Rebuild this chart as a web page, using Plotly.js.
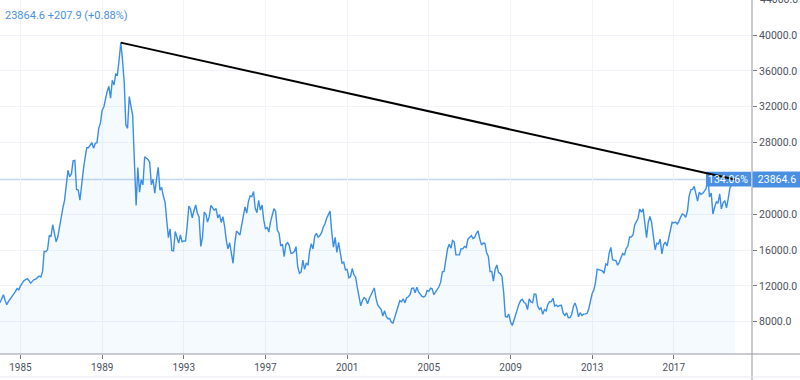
<!DOCTYPE html>
<html>
<head>
<meta charset="utf-8">
<script src="https://cdn.plot.ly/plotly-3.0.1.min.js"></script>
<style>
  html, body { margin: 0; padding: 0; background: #ffffff; }
  #chart { width: 800px; height: 380px; }
</style>
</head>
<body>
<div id="chart"></div>
<script>
// Monthly closes, first value = January 1984
const firstYear = 1984;
const close1980s = [
  10120, 10600, 11000, 10400, 9900, 10260, 10500, 10800, 11100, 11350, 11700, 11550,
  11990, 12350, 12550, 12700, 12800, 12600, 12300, 12500, 12700, 12750, 12900, 13100,
  13000, 13640, 15860, 15825, 16050, 17650, 17500, 18820, 17850, 16910, 17500, 18700,
  20000, 20770, 21570, 23275, 24900, 24180, 24490, 25960, 26010, 22770, 22690, 21560,
  23620, 25000, 26260, 27430, 27420, 27770, 28000, 27370, 27920, 27980, 29580, 30160,
  31580, 31990, 32840, 33710, 34270, 32950, 34950, 34430, 35640, 35550, 37270, 39150
];
const close1990s = [
  37189, 34592, 29980, 29584, 33131, 31940, 31036, 25978, 20984, 25194, 22454, 23849,
  23293, 26409, 26292, 26111, 25790, 23291, 23900, 22335, 23916, 25222, 22688, 22984,
  22023, 21339, 19346, 17391, 18348, 15951, 15910, 18061, 17399, 16767, 17684, 16925,
  17024, 17000, 18591, 20919, 20552, 19590, 20380, 21027, 20106, 19703, 16408, 17417,
  20229, 19997, 19112, 19725, 20974, 20643, 20450, 20629, 19564, 19990, 19076, 19723,
  18650, 17053, 16140, 16807, 15437, 14517, 16678, 18117, 17913, 17654, 18744, 19868,
  20813, 20125, 21407, 22041, 21956, 22531, 20693, 20167, 21556, 20466, 21020, 19361,
  18330, 18557, 18003, 19151, 20069, 20605, 20331, 18229, 17888, 16459, 16636, 15259,
  16628, 16831, 16527, 15641, 15671, 15830, 16379, 14108, 13406, 13565, 14883, 13842,
  14499, 14368, 15837, 16702, 16112, 17530, 17862, 17437, 17605, 17942, 18558, 18934
];
const close2000s = [
  19540, 19960, 20337, 17974, 16332, 17411, 15727, 16861, 15747, 14539, 14649, 13785,
  13843, 12884, 12999, 13934, 13262, 12969, 11860, 10713, 9775, 10366, 10697, 10543,
  9997, 10588, 11025, 11493, 11764, 10622, 9877, 9619, 9383, 8640, 9216, 8579,
  8340, 8363, 7973, 7831, 8425, 9083, 9563, 10344, 10219, 10560, 10101, 10677,
  10784, 11042, 11715, 11762, 11236, 11859, 11326, 11082, 10824, 10771, 10899, 11489,
  11388, 11741, 11669, 11009, 11277, 11584, 11900, 12414, 13574, 13607, 14872, 16111,
  16650, 16206, 17060, 16907, 15467, 15505, 15457, 16141, 16128, 16399, 16274, 17226,
  17383, 17604, 17288, 17400, 17876, 18138, 17249, 16569, 16786, 16738, 15681, 15308,
  13592, 13603, 12526, 13850, 14339, 13482, 13377, 13073, 11260, 8577, 8512, 8860,
  7994, 7568, 8110, 8828, 9523, 9958, 10357, 10493, 10133, 10035, 9346, 10546
];
const close2010s = [
  10198, 10126, 11090, 11057, 9769, 9383, 9537, 8824, 9369, 9202, 9937, 10229,
  10238, 10624, 9755, 9850, 9694, 9816, 9833, 8955, 8700, 8988, 8435, 8455,
  8803, 9723, 10084, 9521, 8543, 9007, 8695, 8840, 8870, 8928, 9446, 10395,
  11139, 11559, 12398, 13861, 13775, 13677, 13668, 13389, 14456, 14328, 15662, 16291,
  14915, 14841, 14828, 14304, 14632, 15162, 15621, 15425, 16174, 16414, 17460, 17451,
  17674, 18798, 19207, 19520, 20563, 20236, 20585, 18890, 17388, 19083, 19747, 19034,
  17518, 16027, 16759, 16666, 17235, 15576, 16569, 16887, 16450, 17425, 18308, 19114,
  19041, 19119, 18909, 19197, 19651, 20033, 19925, 19646, 20356, 22012, 22725, 22765,
  23098, 22068, 21454, 22468, 22202, 22305, 22554, 22865, 24120, 21920, 22351, 20015,
  20773, 21385, 21206, 22259, 20601, 21276, 21522, 20704, 21756, 22927, 23294, 23656.7,
  23864.6
];
const xTickYears = ['1985', '1989', '1993', '1997', '2001', '2005', '2009', '2013', '2017'];
const yTickValues = [8000, 12000, 16000, 20000, 24000, 28000, 32000, 36000, 40000];
const topTickValue = 44000;
const measureLabel = '134.06%';

// ---- build
const closes = [].concat(close1980s, close1990s, close2000s, close2010s);
const dates = closes.map((_, i) => {
  const y = firstYear + Math.floor(i / 12);
  const m = (i % 12) + 1;
  return y + '-' + String(m).padStart(2, '0') + '-01';
});
const n = closes.length;
const last = closes[n - 1];
const prev = closes[n - 2];
const chg = last - prev;
const chgPct = chg / prev * 100;
let peakIdx = 0;
closes.forEach((v, i) => { if (v > closes[peakIdx]) peakIdx = i; });

const BLUE = '#3b8ee8';
const LABEL_BLUE = '#4a90e2';
const AXIS_TXT = '#4c525e';
const GRID = '#f0f3fa';
const FONT = 'Roboto, "Open Sans", sans-serif';

const yLow = 4395, yHigh = 43906;

const traces = [
  {
    x: dates, y: closes, type: 'scatter', mode: 'lines',
    line: { color: BLUE, width: 1.4 },
    fill: 'tozeroy', fillcolor: 'rgba(33,150,243,0.05)',
    hoverinfo: 'skip'
  }
];

const fmt = v => v.toFixed(1);

const layout = {
  width: 800, height: 380,
  margin: { l: 0, r: 48, t: 0, b: 26, pad: 0 },
  paper_bgcolor: '#ffffff', plot_bgcolor: '#ffffff',
  showlegend: false,
  font: { family: FONT, size: 10, color: AXIS_TXT },
  xaxis: {
    type: 'date',
    range: ['1984-01-01', '2020-10-30'],
    tickvals: xTickYears.map(y => y + '-01-01'),
    ticktext: xTickYears,
    ticks: 'outside', ticklen: 4, tickcolor: '#787b86', tickwidth: 1,
    showgrid: true, gridcolor: GRID, gridwidth: 1,
    showline: false, zeroline: false,
    tickfont: { family: FONT, size: 10, color: AXIS_TXT },
    fixedrange: true
  },
  yaxis: {
    side: 'right',
    range: [yLow, yHigh],
    tickvals: yTickValues,
    ticktext: yTickValues.map(fmt),
    ticks: 'outside', ticklen: 4, tickcolor: '#787b86', tickwidth: 1,
    showgrid: true, gridcolor: GRID, gridwidth: 1,
    showline: false, zeroline: false,
    tickfont: { family: FONT, size: 10.5, color: AXIS_TXT },
    fixedrange: true
  },
  shapes: [
    // last price line
    { type: 'line', xref: 'paper', yref: 'y', x0: 0, x1: 1, y0: last, y1: last,
      line: { color: '#c4d8f2', width: 1.5 }, layer: 'below' },
    // measure label box
    { type: 'rect', xref: 'paper', yref: 'y', x0: 0.9388, x1: 0.9987,
      y0: last - 780, y1: last + 870, fillcolor: LABEL_BLUE, line: { width: 0 }, layer: 'above' },
    // trend line from the peak close to the last close
    { type: 'line', xref: 'x', yref: 'y', x0: dates[peakIdx], y0: closes[peakIdx],
      x1: dates[n - 1], y1: last, line: { color: '#000000', width: 2 }, layer: 'above' },
    // bottom axis line (extends to right edge)
    { type: 'line', xref: 'paper', yref: 'paper', x0: 0, x1: 1.07, y0: 0, y1: 0,
      line: { color: '#9598a1', width: 1 } },
    // right axis line (full height)
    { type: 'line', xref: 'paper', yref: 'paper', x0: 1, x1: 1, y0: -0.08, y1: 1.01,
      line: { color: '#9598a1', width: 1 } },
    // faint bottom border
    { type: 'line', xref: 'paper', yref: 'paper', x0: 0, x1: 1.07, y0: -0.065, y1: -0.065,
      line: { color: '#e6e9ef', width: 1 } }
  ],
  annotations: [
    {
      xref: 'paper', yref: 'paper', x: 0, y: 1, xanchor: 'left', yanchor: 'top',
      xshift: 3, yshift: -7, showarrow: false,
      text: fmt(last) + ' +' + chg.toFixed(1) + ' (+' + chgPct.toFixed(2) + '%)',
      font: { family: FONT, size: 11, color: LABEL_BLUE }
    },
    {
      xref: 'paper', yref: 'y', x: 1, y: last, xanchor: 'left', yanchor: 'middle',
      showarrow: false, text: fmt(last), bgcolor: LABEL_BLUE, borderpad: 0,
      width: 48, height: 15, align: 'center',
      font: { family: FONT, size: 10.5, color: '#ffffff' }
    },
    {
      xref: 'paper', yref: 'y', x: 0.9687, y: last, xanchor: 'center', yanchor: 'middle',
      showarrow: false, text: measureLabel,
      font: { family: FONT, size: 10.5, color: '#ffffff' }
    },
    {
      xref: 'paper', yref: 'paper', x: 1,
      y: (topTickValue - yLow) / (yHigh - yLow), xanchor: 'left', yanchor: 'middle',
      xshift: 6, showarrow: false, text: fmt(topTickValue),
      font: { family: FONT, size: 10.5, color: AXIS_TXT }
    }
  ]
};

Plotly.newPlot('chart', traces, layout, { staticPlot: true, displayModeBar: false });
</script>
</body>
</html>
